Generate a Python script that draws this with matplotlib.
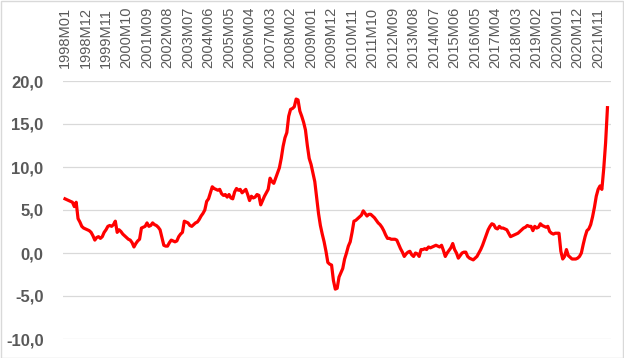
import matplotlib
matplotlib.use("Agg")
from matplotlib import pyplot as plt
from matplotlib.patches import Rectangle
from matplotlib.ticker import FuncFormatter

# gia tri theo thang, 1998M01 -> 2022M04
y1998 = [6.3, 6.2, 6.1, 6.0, 5.9, 5.4, 5.9, 4.0, 3.6, 3.1, 2.9, 2.8]
y1999 = [2.7, 2.6, 2.4, 2.0, 1.5, 1.8, 1.9, 1.7, 1.9, 2.4, 2.7, 3.1]
y2000 = [3.2, 3.1, 3.3, 3.7, 2.4, 2.7, 2.5, 2.2, 2.0, 1.8, 1.6, 1.5]
y2001 = [1.2, 0.7, 1.1, 1.4, 1.6, 2.9, 3.0, 3.1, 3.5, 3.1, 3.2, 3.5]
y2002 = [3.3, 3.2, 3.0, 2.7, 1.8, 0.9, 0.8, 0.8, 1.2, 1.5, 1.4, 1.3]
y2003 = [1.4, 1.9, 2.2, 2.4, 3.7, 3.6, 3.5, 3.2, 3.1, 3.3, 3.5, 3.6]
y2004 = [3.9, 4.3, 4.6, 5.0, 6.0, 6.3, 7.0, 7.7, 7.5, 7.4, 7.3, 7.4]
y2005 = [6.9, 6.7, 6.8, 6.5, 6.8, 6.4, 6.3, 7.1, 7.5, 7.3, 7.4, 7.0]
y2006 = [7.2, 7.4, 6.8, 6.1, 6.6, 6.4, 6.5, 6.8, 6.7, 5.6, 6.1, 6.6]
y2007 = [7.0, 7.4, 8.7, 8.3, 8.1, 8.7, 9.3, 9.9, 11.0, 12.4, 13.4, 14.0]
y2008 = [15.9, 16.7, 16.8, 17.0, 17.9, 17.8, 16.5, 15.9, 15.2, 14.3, 12.5, 11.0]
y2009 = [10.3, 9.3, 8.3, 6.4, 4.6, 3.2, 2.2, 1.3, 0.2, -1.1, -1.3, -1.4]
y2010 = [-3.2, -4.2, -4.1, -2.8, -2.3, -1.8, -0.7, 0.0, 0.8, 1.3, 2.4, 3.7]
y2011 = [3.8, 4.0, 4.2, 4.4, 4.9, 4.6, 4.3, 4.5, 4.5, 4.3, 4.1, 3.8]
y2012 = [3.5, 3.3, 3.0, 2.6, 2.1, 1.7, 1.7, 1.6, 1.6, 1.6, 1.5, 1.0]
y2013 = [0.5, 0.1, -0.4, -0.1, 0.1, 0.2, -0.2, -0.4, 0.0, -0.1, -0.4, 0.4]
y2014 = [0.4, 0.5, 0.4, 0.7, 0.6, 0.7, 0.8, 0.9, 0.8, 0.7, 0.9, 0.3]
y2015 = [-0.4, 0.0, 0.3, 0.6, 1.1, 0.4, 0.0, -0.6, -0.3, 0.0, 0.1, 0.1]
y2016 = [-0.4, -0.6, -0.7, -0.8, -0.6, -0.4, 0.0, 0.4, 0.9, 1.5, 2.1, 2.7]
y2017 = [3.1, 3.4, 3.3, 2.9, 2.8, 3.1, 2.9, 2.9, 2.8, 2.7, 2.3, 1.9]
y2018 = [2.0, 2.1, 2.2, 2.3, 2.5, 2.7, 2.9, 3.0, 3.2, 3.1, 3.1, 2.6]
y2019 = [3.1, 2.9, 3.0, 3.4, 3.2, 3.1, 3.0, 3.1, 2.5, 2.3, 2.2, 2.3]
y2020 = [2.3, 2.3, 0.2, -0.7, -0.4, 0.4, -0.3, -0.5, -0.7, -0.7, -0.7, -0.6]
y2021 = [-0.4, 0.0, 1.0, 1.9, 2.6, 2.8, 3.3, 4.2, 5.3, 6.6, 7.4, 7.8]
y2022 = [7.4, 9.8, 12.8, 16.9]

values = (y1998 + y1999 + y2000 + y2001 + y2002 + y2003 + y2004 + y2005
          + y2006 + y2007 + y2008 + y2009 + y2010 + y2011 + y2012 + y2013
          + y2014 + y2015 + y2016 + y2017 + y2018 + y2019 + y2020 + y2021
          + y2022)

# nhan thang: 1998M01, 1998M02, ...
months = [f"{1998 + k // 12}M{k % 12 + 1:02d}" for k in range(len(values))]

GRAY = "#595959"
GRID = "#d9d9d9"

fig = plt.figure(figsize=(6.24, 3.58), dpi=100)
ax = fig.add_axes([63 / 624, 1 - 339 / 358, 548 / 624, 258 / 358])

x = list(range(len(values)))
ax.plot(x, values, color="#ff0000", linewidth=2.3, solid_joinstyle="round")

ax.set_ylim(-10, 20)
ax.set_yticks([-10, -5, 0, 5, 10, 15, 20])
ax.yaxis.set_major_formatter(FuncFormatter(lambda v, p: f"{v:.1f}".replace(".", ",")))
ax.set_xlim(-1.07, 292.9)
ax.set_xticks(x[::11])
ax.set_xticklabels(months[::11], rotation=90, fontsize=10.5, color=GRAY,
                   family="Liberation Sans")
ax.xaxis.tick_top()

for lab in ax.get_yticklabels():
    lab.set_fontsize(12)
    lab.set_fontweight("bold")
    lab.set_color(GRAY)
    lab.set_family("Liberation Sans")

ax.tick_params(axis="both", length=0)
ax.tick_params(axis="x", pad=9)
ax.tick_params(axis="y", pad=14)
ax.grid(True, axis="y", color=GRID, linewidth=0.9)
ax.set_axisbelow(True)
for s in ax.spines.values():
    s.set_visible(False)

# khung vien ngoai
fig.patches.append(Rectangle((0.5 / 624, 0.5 / 358), 1 - 1.5 / 624, 1 - 1.5 / 358,
                             transform=fig.transFigure, fill=False,
                             edgecolor=GRID, linewidth=1))

fig.savefig("out.png", dpi=100)
